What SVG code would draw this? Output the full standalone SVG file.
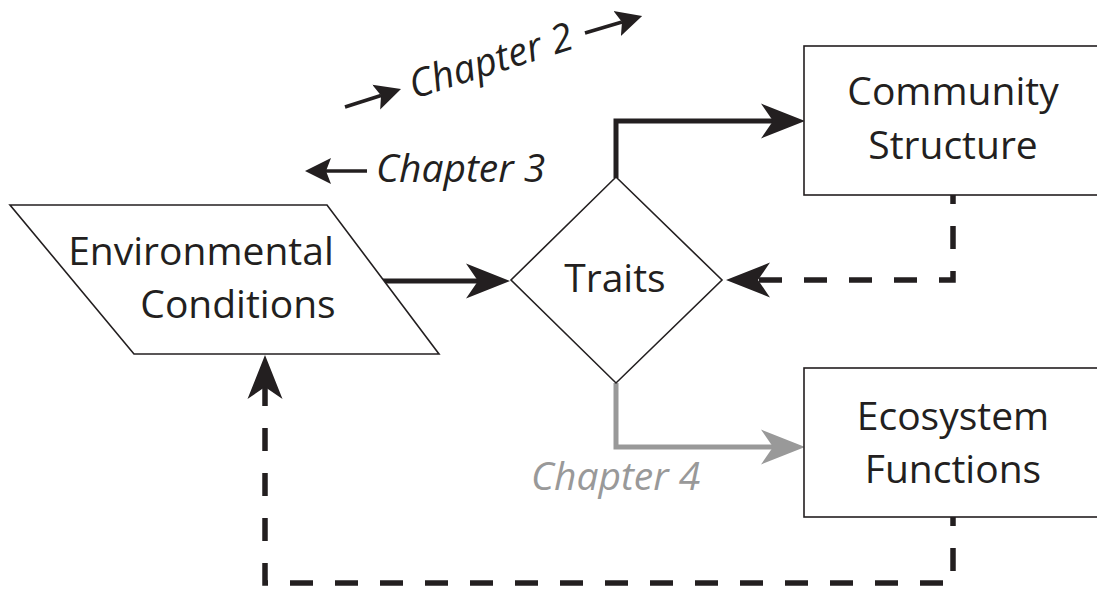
<svg xmlns="http://www.w3.org/2000/svg" width="1097" height="591" viewBox="0 0 1097 591">
<style>
.shape{fill:#fff;stroke:#231f20;stroke-width:1.6}
.lbl{font-family:"Open Sans","Noto Sans","Liberation Sans",sans-serif;font-size:39px;fill:#231f20;text-anchor:middle}
.ch{font-family:"Open Sans","Noto Sans","Liberation Sans",sans-serif;font-size:39px;font-style:italic;fill:#231f20}
.solid{fill:none;stroke:#231f20;stroke-width:5}
.dash{fill:none;stroke:#231f20;stroke-width:5.5;stroke-dasharray:23 22}
.gray{fill:none;stroke:#999;stroke-width:5}
.thin{fill:none;stroke:#231f20;stroke-width:3.5}
</style>
<defs>
<marker id="ah" markerUnits="userSpaceOnUse" viewBox="0 -18 44 36" markerWidth="44" markerHeight="36" refX="12" refY="0" orient="auto">
<path d="M0,-17.5 L44,0 L0,17.5 L12,0 Z" fill="#231f20"/>
</marker>
<marker id="ahg" markerUnits="userSpaceOnUse" viewBox="0 -18 44 36" markerWidth="44" markerHeight="36" refX="12" refY="0" orient="auto">
<path d="M0,-17.5 L44,0 L0,17.5 L12,0 Z" fill="#999"/>
</marker>
<marker id="as" markerUnits="userSpaceOnUse" viewBox="0 -14 26 28" markerWidth="26" markerHeight="28" refX="5" refY="0" orient="auto">
<path d="M0,-13 L26,0 L0,13 L5,0 Z" fill="#231f20"/>
</marker>
</defs>

<g id="connectors">
<path class="solid" d="M383,281 H478" marker-end="url(#ah)"/>
<path class="solid" d="M616,178 V121 H773" marker-end="url(#ah)"/>
<path class="dash" style="stroke-dashoffset:14" d="M953,195 V280 H758" marker-end="url(#ah)"/>
<path class="gray" d="M616,383 V447 H773" marker-end="url(#ahg)"/>
<path class="dash" style="stroke-dashoffset:14" d="M953,517 V583 H265 V387" marker-end="url(#ah)"/>
</g>

<g id="environmental-conditions">
<polygon class="shape" points="10,205 327,205 439,354 134,354"/>
<text class="lbl" x="201" y="265">Environmental</text>
<text class="lbl" x="238" y="318">Conditions</text>
</g>

<g id="traits">
<polygon class="shape" points="616,177 722,280 616,383 511,280"/>
<text class="lbl" x="615" y="292">Traits</text>
</g>

<g id="community-structure">
<rect class="shape" x="804" y="46" width="296" height="149"/>
<text class="lbl" x="953" y="105">Community</text>
<text class="lbl" x="953" y="159">Structure</text>
</g>

<g id="ecosystem-functions">
<rect class="shape" x="804" y="368" width="296" height="149"/>
<text class="lbl" x="953" y="430">Ecosystem</text>
<text class="lbl" x="953" y="483">Functions</text>
</g>

<g id="chapter-2">
<path class="thin" d="M345,107 L381,95.5" marker-end="url(#as)"/>
<text class="ch" x="414" y="99" transform="rotate(-17.5 414 99)">Chapter 2</text>
<path class="thin" d="M585,33 L622,22" marker-end="url(#as)"/>
</g>

<g id="chapter-3">
<path class="thin" d="M367,171 H326" marker-end="url(#as)"/>
<text class="ch" x="376" y="182">Chapter 3</text>
</g>

<g id="chapter-4">
<text class="ch" x="531" y="490" style="fill:#999">Chapter 4</text>
</g>
</svg>
